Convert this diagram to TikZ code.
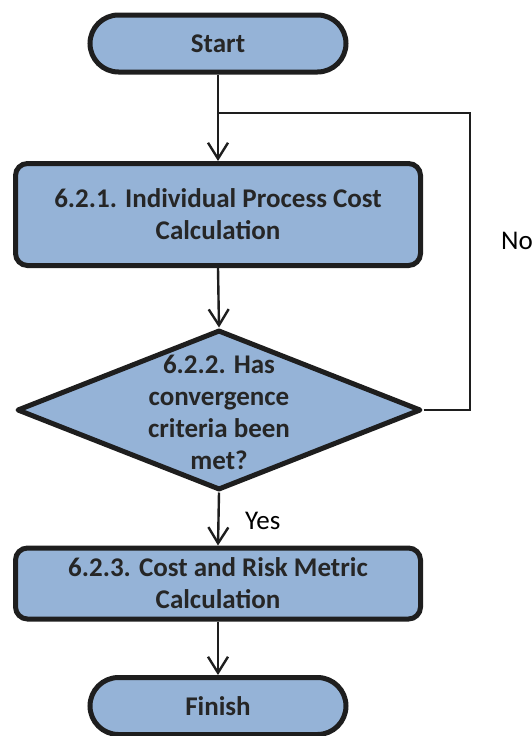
\documentclass[tikz,border=0pt]{standalone}
\usepackage{fontspec}
\setmainfont{Carlito}
\usetikzlibrary{arrows.meta,shapes.geometric}
\definecolor{boxfill}{HTML}{95B3D7}
\definecolor{boxline}{HTML}{1E1E1E}
\definecolor{boxtext}{HTML}{262626}
\begin{document}
\begin{tikzpicture}[x=1pt,y=-1pt,
  txt/.style={font=\fontsize{27}{32}\selectfont\bfseries, text=boxtext, align=center},
  terminal/.style={draw=boxline, line width=5pt, fill=boxfill, txt,
    minimum width=256pt, minimum height=57pt, rounded corners=28.5pt, inner sep=0pt},
  process/.style={draw=boxline, line width=5pt, fill=boxfill, txt,
    minimum width=405pt, rounded corners=12pt, inner sep=0pt},
  decision/.style={draw=boxline, line width=5pt, fill=boxfill, diamond,
    minimum width=404pt, minimum height=160pt, inner sep=0pt, line join=round},
  flow/.style={draw=boxline, line width=2.4pt,
    -{Straight Barb[length=16pt,width=20pt,line width=2.4pt]}},
  loopline/.style={draw=boxline, line width=2.2pt},
  lbl/.style={font=\fontsize{27}{32}\selectfont, text=black, anchor=west, inner sep=0pt}
]
\useasboundingbox (0,0) rectangle (532,736);

\node[terminal] (start) at (218,43.5) {Start};
\node[process, minimum height=102pt] (calc) at (218,214.5)
  {6.2.1. Individual Process Cost\\Calculation};
\node[decision] (check) at (219,410) {};
\node[txt] (checktext) at (219,412)
  {6.2.2. Has\\convergence\\criteria been\\met?};
\node[process, minimum height=71pt] (metric) at (218,583.5)
  {6.2.3. Cost and Risk Metric\\Calculation};
\node[terminal] (finish) at (218,706) {Finish};

\coordinate (join) at (218,113);
\coordinate (right) at (470,410);

\draw[flow] (start.south) -- (calc.north);
\draw[flow] (calc.south) -- (check.north);
\draw[flow] (check.south) -- (metric.north);
\draw[flow] (metric.south) -- (finish.north);
\draw[loopline] (check.east) -- (right) |- (join);

\node[lbl] (no) at (501,241) {No};
\node[lbl] (yes) at (245,521) {Yes};
\end{tikzpicture}
\end{document}
